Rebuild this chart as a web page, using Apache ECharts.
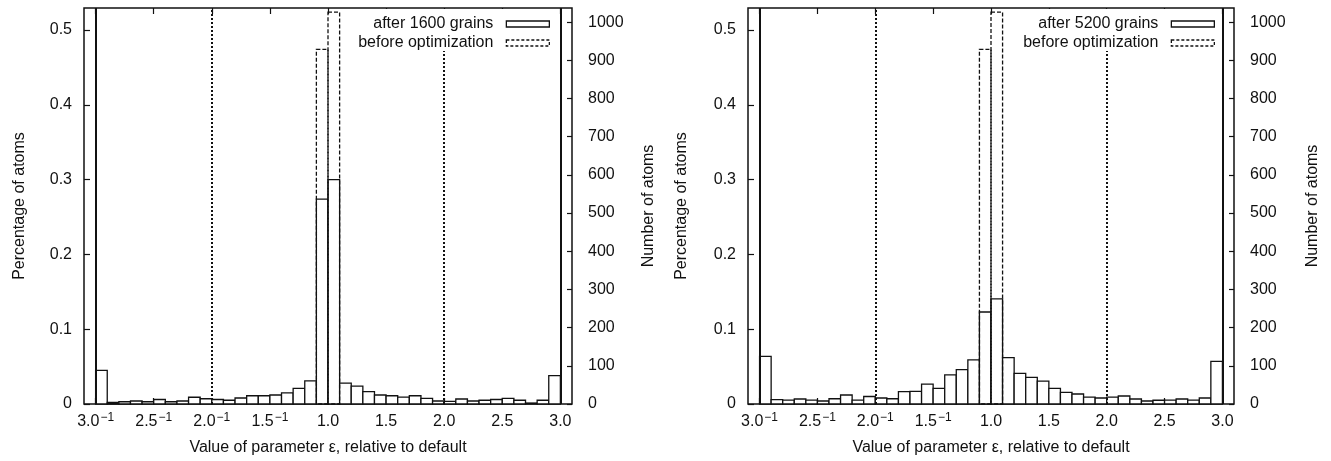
<!DOCTYPE html>
<html>
<head>
<meta charset="utf-8">
<script src="https://cdn.jsdelivr.net/npm/echarts@6/dist/echarts.min.js"></script>
<style>
html,body{margin:0;padding:0;background:#fff}
#c{width:1331px;height:461px}
</style>
</head>
<body>
<div id="c"></div>
<script>
// ---- data ----
// bin start positions on the symmetric ratio axis (x>1: x-1, x<1: -(1/x-1)), each bin 0.1 wide
const binStart = [-2.0,-1.9,-1.8,-1.7,-1.6,-1.5,-1.4,-1.3,-1.2,-1.1,-1.0,-0.9,-0.8,-0.7,-0.6,-0.5,-0.4,-0.3,-0.2,-0.1,
                   0.0, 0.1, 0.2, 0.3, 0.4, 0.5, 0.6, 0.7, 0.8, 0.9, 1.0, 1.1, 1.2, 1.3, 1.4, 1.5, 1.6, 1.7, 1.8, 1.9];
const binWidth = 0.1;

const after1600 = [0.045,0.002,0.003,0.004,0.003,0.006,0.003,0.004,0.009,0.007,0.006,0.005,0.008,0.011,0.011,0.012,0.015,0.021,0.031,0.274,
                   0.300,0.028,0.024,0.0165,0.012,0.011,0.0093,0.011,0.0076,0.004,0.0036,0.0067,0.004,0.005,0.006,0.0076,0.005,0.0013,0.005,0.038];

const after5200 = [0.0636,0.0058,0.0053,0.0067,0.0053,0.004,0.007,0.012,0.0053,0.010,0.008,0.007,0.0165,0.017,0.0267,0.021,0.039,0.046,0.059,0.123,
                   0.1406,0.062,0.041,0.0356,0.0307,0.021,0.0156,0.0134,0.0093,0.008,0.0093,0.0107,0.0067,0.004,0.005,0.0053,0.0067,0.0053,0.008,0.057];

const beforeOptimization = [0,0,0,0,0,0,0,0,0,0,0,0,0,0,0,0,0,0,0,0.474,
                            0.524,0,0,0,0,0,0,0,0,0,0,0,0,0,0,0,0,0,0,0];

const xTickPositions = [-2,-1.5,-1,-0.5,0,0.5,1,1.5,2];
const xTickLabels = ['{n|3.0}{s|\u22121}','{n|2.5}{s|\u22121}','{n|2.0}{s|\u22121}','{n|1.5}{s|\u22121}','{n|1.0}','{n|1.5}','{n|2.0}','{n|2.5}','{n|3.0}'];
const pctTicks = [0,0.1,0.2,0.3,0.4,0.5];
const pctTickLabels = ['0','0.1','0.2','0.3','0.4','0.5'];
const countTicks = [0,100,200,300,400,500,600,700,800,900,1000];
const solidLinesAt = [-2, 2];
const dottedLinesAt = [-1, 1];
const panelLabels = ['after 1600 grains','after 5200 grains'];
const beforeLabel = 'before optimization';

// ---- chart ----
const F = '"Liberation Sans", Arial, Helvetica, sans-serif';
const INK = '#111';
const chart = echarts.init(document.getElementById('c'), null, {renderer:'canvas'});

function barData(vals){ return binStart.map((s,i)=>[s, s+binWidth, vals[i]]); }
function renderBar(dashed){
  return function(params, api){
    const x0 = api.value(0), x1 = api.value(1), v = api.value(2);
    if (!v) return null;
    const p0 = api.coord([x0, 0]);
    const p1 = api.coord([x1, v]);
    return {type:'rect',
      shape:{x:p0[0], y:p1[1], width:p1[0]-p0[0], height:p0[1]-p1[1]},
      style:{fill: dashed ? null : '#fff', stroke: INK, lineWidth: 1.3, lineDash: dashed ? [4,2] : null}};
  };
}
function xLabel(v){
  let best = 0, d = 1e9;
  xTickPositions.forEach((p,i)=>{ const dd = Math.abs(p-v); if (dd<d){d=dd;best=i;} });
  return xTickLabels[best];
}

const grids = [{left:84, top:8, width:488, height:396}, {left:748, top:8, width:486, height:396}];
const legendRight = [776, 111];
const pctNameGap = [56, 58];
const cntNameGap = [69, 71];
const TICK = {color:INK, width:1.2};

const option = {animation:false, backgroundColor:'#fff', grid:[], xAxis:[], yAxis:[], legend:[], series:[]};

grids.forEach((g,k)=>{
  option.grid.push(Object.assign({show:true, borderColor:INK, borderWidth:1.5, backgroundColor:'transparent', containLabel:false, outerBoundsMode:'none'}, g));
  // bottom x
  option.xAxis.push({type:'value', gridIndex:k, position:'bottom', min:-2.1, max:2.1,
    name:'Value of parameter \u03b5, relative to default', nameLocation:'middle', nameGap:36,
    nameTextStyle:{fontFamily:F, fontSize:16, color:INK},
    axisLine:{show:false, onZero:false}, splitLine:{show:false},
    axisTick:{show:true, inside:true, length:6, lineStyle:TICK, customValues:xTickPositions},
    axisLabel:{show:true, margin:7, color:INK, fontFamily:F, customValues:xTickPositions, formatter:xLabel,
      rich:{n:{fontFamily:F, fontSize:16, color:INK, lineHeight:22},
            s:{fontFamily:F, fontSize:12, color:INK, padding:[0,0,9,1]}}}});
  // top mirror x
  option.xAxis.push({type:'value', gridIndex:k, position:'top', min:-2.1, max:2.1,
    axisLine:{show:false, onZero:false}, splitLine:{show:false}, axisLabel:{show:false},
    axisTick:{show:true, inside:true, length:6, lineStyle:TICK, customValues:xTickPositions}});
  // left pct y
  option.yAxis.push({type:'value', gridIndex:k, position:'left', min:0, max:0.5294,
    name:'Percentage of atoms', nameLocation:'middle', nameRotate:90, nameGap:pctNameGap[k],
    nameTextStyle:{fontFamily:F, fontSize:16, color:INK},
    axisLine:{show:false, onZero:false}, splitLine:{show:false},
    axisTick:{show:true, inside:true, length:6, lineStyle:TICK, customValues:pctTicks},
    axisLabel:{show:true, margin:12, color:INK, fontFamily:F, fontSize:16, customValues:pctTicks,
      formatter:(v)=>{ const i = pctTicks.findIndex(t=>Math.abs(t-v)<1e-6); return i>=0 ? pctTickLabels[i] : ''; }}});
  // right count y
  option.yAxis.push({type:'value', gridIndex:k, position:'right', min:0, max:1037,
    name:'Number of atoms', nameLocation:'middle', nameRotate:90, nameGap:cntNameGap[k],
    nameTextStyle:{fontFamily:F, fontSize:16, color:INK},
    axisLine:{show:false, onZero:false}, splitLine:{show:false},
    axisTick:{show:true, inside:true, length:5, lineStyle:TICK, customValues:countTicks},
    axisLabel:{show:true, margin:16, color:INK, fontFamily:F, fontSize:16, customValues:countTicks,
      formatter:(v)=>String(Math.round(v))}});

  const xi = k*2, yi = k*2;
  const afterVals = k===0 ? after1600 : after5200;
  option.legend.push({show:true, orient:'vertical', align:'right', right:legendRight[k], top:9,
    padding:[7,5,0,5], itemGap:3, itemWidth:43, itemHeight:6, icon:'rect', backgroundColor:'#fff',
    selectedMode:false, z:10,
    textStyle:{fontFamily:F, fontSize:16, color:INK, lineHeight:14, padding:[0,8,0,0]},
    data:[{name:panelLabels[k], itemStyle:{color:'#fff', borderColor:INK, borderWidth:1.3}},
          {name:beforeLabel, itemStyle:{color:'#fff', borderColor:INK, borderWidth:1.3, borderType:[3,2]}}]});

  // reference lines
  option.series.push({type:'line', xAxisIndex:xi, yAxisIndex:yi, data:[], silent:true, z:1,
    markLine:{silent:true, symbol:['none','none'], label:{show:false}, animation:false,
      data: solidLinesAt.map(v=>({xAxis:v, lineStyle:{type:'solid', width:2, color:INK}}))
        .concat(dottedLinesAt.map(v=>({xAxis:v, lineStyle:{type:[2,2], width:2, color:INK}})))}});
  option.series.push({type:'custom', name:panelLabels[k], xAxisIndex:xi, yAxisIndex:yi, z:3,
    renderItem:renderBar(false), data:barData(afterVals), encode:{x:[0,1], y:2},
    itemStyle:{color:'#fff', borderColor:INK}});
  option.series.push({type:'custom', name:beforeLabel, xAxisIndex:xi, yAxisIndex:yi, z:4,
    renderItem:renderBar(true), data:barData(beforeOptimization), encode:{x:[0,1], y:2},
    itemStyle:{color:'#fff', borderColor:INK}});
});

chart.setOption(option);
</script>
</body>
</html>
